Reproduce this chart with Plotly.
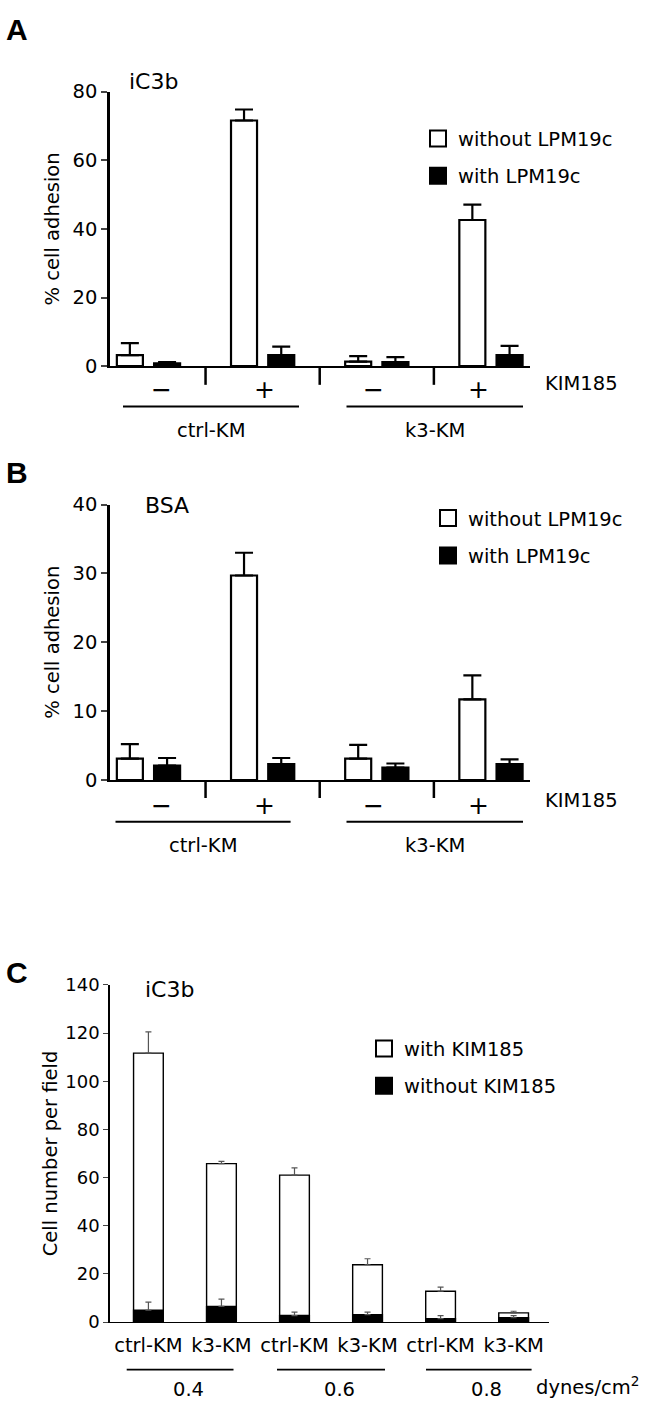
import plotly.graph_objects as go

W, H = 649, 1417
FONT = "DejaVu Sans, Verdana, sans-serif"
BOLD_FONT = "Liberation Sans, Arial, sans-serif"
FS = 19.5

# ---------------- data ----------------
ab_cells = ["ctrl-KM", "ctrl-KM", "k3-KM", "k3-KM"]
ab_kim185 = ["−", "+", "−", "+"]

a_without = [3.2, 71.6, 1.3, 42.6]
a_without_err = [3.5, 3.2, 1.6, 4.5]
a_with = [0.8, 3.2, 1.2, 3.2]
a_with_err = [0.4, 2.5, 1.4, 2.7]

b_without = [3.1, 29.7, 3.1, 11.7]
b_without_err = [2.1, 3.3, 2.0, 3.5]
b_with = [2.1, 2.3, 1.8, 2.3]
b_with_err = [1.1, 0.9, 0.6, 0.7]

c_cells = ["ctrl-KM", "k3-KM", "ctrl-KM", "k3-KM", "ctrl-KM", "k3-KM"]
c_shear = ["0.4", "0.6", "0.8"]
c_with = [111.7, 65.8, 61.0, 23.8, 12.8, 3.8]
c_with_err = [8.8, 0.9, 3.0, 2.5, 1.7, 0.7]
c_without = [4.9, 6.5, 2.7, 3.1, 1.4, 1.8]
c_without_err = [3.4, 3.0, 1.4, 1.0, 1.3, 0.9]

a_ticks = [0, 20, 40, 60, 80]
b_ticks = [0, 10, 20, 30, 40]
c_ticks = [0, 20, 40, 60, 80, 100, 120, 140]


def px(x):
    return x / W


def py(y):
    return 1 - y / H


fig = go.Figure()


def legend_entry(name, fill, xa, ya, leg, group):
    # legend key only (no data): a larger square than the default bar key
    fig.add_trace(go.Scatter(
        x=[None], y=[None], mode="markers", name=name,
        marker=dict(symbol="square", size=16, color=fill,
                    line=dict(color="black", width=2)),
        xaxis=xa, yaxis=ya, legend=leg, legendgroup=group, showlegend=True,
        hoverinfo="skip"))


xs_ab = list(range(len(ab_kim185)))
BW = 0.228


def ab_traces(xa, ya, leg, without, without_err, with_, with_err):
    fig.add_trace(go.Bar(
        x=xs_ab, y=without, width=BW, offset=-0.277,
        marker=dict(color="white", line=dict(color="black", width=2.2)),
        error_y=dict(type="data", array=without_err, arrayminus=[0] * len(without),
                     symmetric=False, color="black", thickness=2.2, width=9),
        name="without LPM19c", xaxis=xa, yaxis=ya, legend=leg,
        legendgroup=leg + "w", showlegend=False))
    fig.add_trace(go.Bar(
        x=xs_ab, y=with_, width=BW, offset=0.049,
        marker=dict(color="black", line=dict(color="black", width=2.2)),
        error_y=dict(type="data", array=with_err, arrayminus=[0] * len(with_),
                     symmetric=False, color="black", thickness=2.2, width=9),
        name="with LPM19c", xaxis=xa, yaxis=ya, legend=leg,
        legendgroup=leg + "b", showlegend=False))
    legend_entry("without LPM19c", "white", xa, ya, leg, leg + "w")
    legend_entry("with LPM19c", "black", xa, ya, leg, leg + "b")


ab_traces("x", "y", "legend", a_without, a_without_err, a_with, a_with_err)
ab_traces("x2", "y2", "legend2", b_without, b_without_err, b_with, b_with_err)

xs_c = list(range(len(c_cells)))
fig.add_trace(go.Bar(
    x=xs_c, y=c_with, width=0.407, offset=-0.2035,
    marker=dict(color="white", line=dict(color="black", width=1.4)),
    error_y=dict(type="data", array=c_with_err, arrayminus=[0] * 6, symmetric=False,
                 color="#555", thickness=1.2, width=3),
    name="with KIM185", xaxis="x3", yaxis="y3", legend="legend3", legendgroup="c1",
    showlegend=False))
fig.add_trace(go.Bar(
    x=xs_c, y=c_without, width=0.407, offset=-0.2035,
    marker=dict(color="black", line=dict(color="black", width=1.4)),
    error_y=dict(type="data", array=c_without_err, arrayminus=[0] * 6, symmetric=False,
                 color="#555", thickness=1.2, width=3),
    name="without KIM185", xaxis="x3", yaxis="y3", legend="legend3", legendgroup="c2",
    showlegend=False))
legend_entry("with KIM185", "white", "x3", "y3", "legend3", "c1")
legend_entry("without KIM185", "black", "x3", "y3", "legend3", "c2")

axis_common = dict(showgrid=False, zeroline=False, showline=True, linecolor="black",
                   tickfont=dict(family=FONT, size=FS, color="black"))

fig.update_layout(
    width=W, height=H, autosize=False,
    margin=dict(l=0, r=0, t=0, b=0),
    paper_bgcolor="white", plot_bgcolor="white",
    barmode="overlay", hovermode=False,
    font=dict(family=FONT, size=FS, color="black"),
    xaxis=dict(domain=[px(110), px(530)], range=[-0.337, 3.342], anchor="y",
               linewidth=2, showticklabels=False, ticks="", **axis_common),
    yaxis=dict(domain=[py(361), py(82)], range=[0, 80], anchor="x",
               tickvals=a_ticks, ticks="outside", ticklen=6, tickwidth=2,
               linewidth=2.5,
               title=dict(text="% cell adhesion", font=dict(size=FS), standoff=8),
               **axis_common),
    xaxis2=dict(domain=[px(110), px(530)], range=[-0.337, 3.342], anchor="y2",
                linewidth=2, showticklabels=False, ticks="", **axis_common),
    yaxis2=dict(domain=[py(781.7), py(501.7)], range=[0, 40], anchor="x2",
                tickvals=b_ticks, ticks="outside", ticklen=6, tickwidth=2,
                linewidth=2.5,
                title=dict(text="% cell adhesion", font=dict(size=FS), standoff=8),
                **axis_common),
    xaxis3=dict(domain=[px(110), px(548.6)], range=[-0.526, 5.479], anchor="y3",
                linewidth=1.4, ticks="", tickvals=xs_c, ticktext=c_cells,
                ticklabelstandoff=5, **axis_common),
    yaxis3=dict(domain=[py(1332.7), py(990)], range=[0, 140], anchor="x3",
                tickvals=c_ticks, ticks="outside", ticklen=5, tickwidth=1.4,
                linewidth=1.6,
                title=dict(text="Cell number per field", font=dict(size=FS), standoff=2),
                **{**axis_common, "tickfont": dict(family=FONT, size=18, color="black")}),
    legend=dict(x=px(418), y=py(110), xanchor="left", yanchor="top",
                font=dict(size=FS), bgcolor="rgba(0,0,0,0)", tracegroupgap=9,
                traceorder="grouped"),
    legend2=dict(x=px(428), y=py(496), xanchor="left", yanchor="top",
                 font=dict(size=FS), bgcolor="rgba(0,0,0,0)", tracegroupgap=9,
                 traceorder="grouped"),
    legend3=dict(x=px(364), y=py(1035), xanchor="left", yanchor="top",
                 font=dict(size=FS), bgcolor="rgba(0,0,0,0)", tracegroupgap=9,
                 traceorder="grouped"),
)

shapes = []
ann = []


def line_px(x0, y0, x1, y1, w=2):
    shapes.append(dict(type="line", xref="paper", yref="paper",
                       x0=px(x0), x1=px(x1), y0=py(y0), y1=py(y1),
                       line=dict(color="black", width=w)))


def text_px(x, y, t, size=FS, xanchor="center", bold=False):
    ann.append(dict(xref="paper", yref="paper", x=px(x), y=py(y),
                    text=("<b>%s</b>" % t) if bold else t,
                    showarrow=False, xanchor=xanchor, yanchor="middle",
                    font=dict(family=BOLD_FONT if bold else FONT, size=size, color="black")))


def ab_decor(xref, axis_y, div_bottom, sign_y, kim_y, br_y, lab_y, br, title, title_x, title_y, panel, panel_y):
    for xv in [0.5, 1.5, 2.5]:
        shapes.append(dict(type="line", xref=xref, yref="paper", x0=xv, x1=xv,
                           y0=py(axis_y), y1=py(div_bottom),
                           line=dict(color="black", width=2.5)))
    for sx, s in zip([161.5, 264.5, 373.8, 478.2], ab_kim185):
        text_px(sx, sign_y, s, size=25)
    text_px(543, kim_y, "KIM185", xanchor="left")
    for (x0, x1), name in zip(br, ["ctrl-KM", "k3-KM"]):
        line_px(x0, br_y, x1, br_y)
        text_px((x0 + x1) / 2, lab_y, name)
    text_px(title_x, title_y, title, size=22, xanchor="left")
    text_px(17, panel_y, panel, size=30, bold=True)


ab_decor("x", 361, 380, 385, 379, 402, 426, [(123, 299), (346.5, 523)], "iC3b", 127, 72, "A", 19)
ab_decor("x2", 781.7, 800, 808, 803, 824, 848, [(115.5, 290.6), (346.5, 523)], "BSA", 143, 503, "B", 469)

for (x0, x1), s, sx in zip([(126.7, 233.5), (277, 385), (426, 531.6)], c_shear, [188.8, 339, 486.9]):
    line_px(x0, 1381, x1, 1381, w=1.6)
    text_px(sx, 1401, s)
text_px(534, 1398, "dynes/cm<sup>2</sup>", xanchor="left")
text_px(143, 995, "iC3b", size=22, xanchor="left")
text_px(17, 977, "C", size=30, bold=True)

fig.update_layout(shapes=shapes, annotations=ann)
fig.write_html("out.html", config={"displayModeBar": False},
               post_script="document.body.style.margin='0px';")
